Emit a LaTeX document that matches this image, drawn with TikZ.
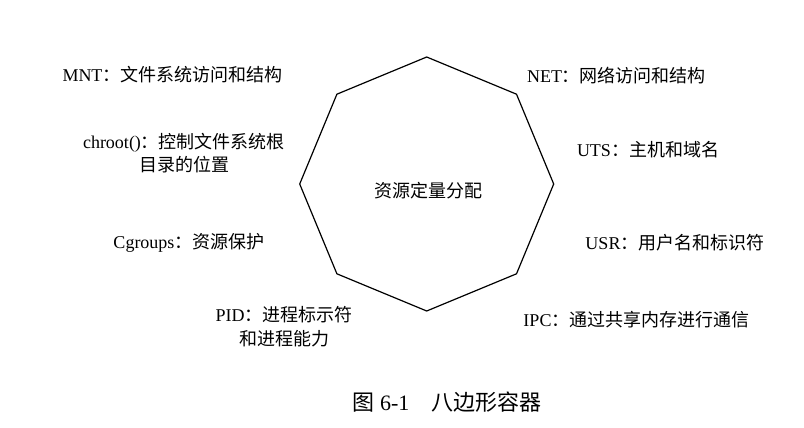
\documentclass[tikz,border=0pt]{standalone}
\usepackage{fontspec}
\setmainfont{Liberation Serif}
\newfontfamily\zhfont{Noto Sans CJK SC}
\newcommand{\zh}[1]{{\zhfont #1}}
\usetikzlibrary{shapes.geometric}

\begin{document}
\begin{tikzpicture}[
        x=0.5pt, y=-0.5pt,
        label/.style={align=center, font=\fontsize{9}{11.8}\selectfont, inner sep=0pt},
        octa/.style={draw, line width=0.6pt, regular polygon, regular polygon sides=8, shape border rotate=22.5, minimum size=127pt, inner sep=0pt, outer sep=0pt}
      ]
      \useasboundingbox (0,0) rectangle (804,428);
      \node[octa] (core) at (426.7,184) {};
      \node[label] (quota) at (428,191) {\zh{资源定量分配}};

      \node[label] (mnt) at (172.5,75) {MNT\zh{：文件系统访问和结构}};
      \node[label] (chroot) at (184,153) {chroot()\zh{：控制文件系统根}\\\zh{目录的位置}};
      \node[label] (cgroups) at (189,243) {Cgroups\zh{：资源保护}};
      \node[label] (pid) at (284,326.5) {PID\zh{：进程标示符}\\\zh{和进程能力}};

      \node[label] (net) at (616.5,76) {NET\zh{：网络访问和结构}};
      \node[label] (uts) at (648,150) {UTS\zh{：主机和域名}};
      \node[label] (usr) at (675,243) {USR\zh{：用户名和标识符}};
      \node[label] (ipc) at (636.5,320) {IPC\zh{：通过共享内存进行通信}};

      \node[label, font=\fontsize{11}{13}\selectfont] (caption) at (447,401.7) {\zh{图} 6-1\quad\zh{八边形容器}};
    \end{tikzpicture}
\end{document}
